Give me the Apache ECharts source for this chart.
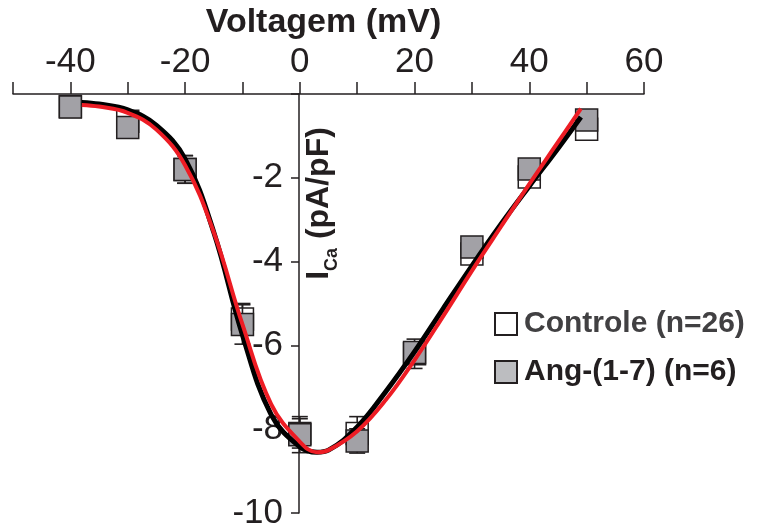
<!DOCTYPE html>
<html>
<head>
<meta charset="utf-8">
<script src="https://cdn.jsdelivr.net/npm/echarts@6/dist/echarts.min.js"></script>
<style>
  html, body { margin: 0; padding: 0; background: #fff; }
  #chart { width: 758px; height: 530px; }
</style>
</head>
<body>
<div id="chart"></div>
<script>
// pontos medidos (mV)
const volts = [-40, -30, -20, -10, 0, 10, 20, 30, 40, 50];
const ctrlMean = [-0.3, -0.65, -1.8, -5.37, -8.1, -8.1, -6.2, -3.82, -1.98, -0.84];
const ctrlSem = [0.05, 0.05, 0.33, 0.37, 0.35, 0.4, 0.35, 0.1, 0.1, 0.1];
const angMean = [-0.31, -0.8, -1.8, -5.5, -8.13, -8.28, -6.17, -3.65, -1.79, -0.62];
const angSem = [0.05, 0.05, 0.33, 0.47, 0.43, 0.29, 0.2, 0.1, 0.1, 0.05];

// curvas ajustadas
const fitX = [-38, -35, -30, -25, -20, -15, -10, -5, 0, 3, 5, 10, 15, 20, 25, 30, 35, 40, 45, 49];
const ctrlFit = [-0.2, -0.24, -0.38, -0.75, -1.55, -3.3, -5.75, -7.65, -8.42, -8.55, -8.5, -7.95, -7.1, -6.15, -5.12, -4.1, -3.12, -2.2, -1.3, -0.55];
const angFit = [-0.26, -0.3, -0.45, -0.85, -1.7, -3.3, -5.5, -7.4, -8.3, -8.55, -8.5, -8.05, -7.3, -6.35, -5.3, -4.22, -3.18, -2.15, -1.15, -0.35];

const seriesNames = ['Controle (n=26)', 'Ang-(1-7) (n=6)'];

const ink = '#231f20';
const font = '"Liberation Sans", Arial, sans-serif';

function errorBars(mean, sem, z) {
  return {
    type: 'custom',
    z: z,
    silent: true,
    encode: { x: 0, y: 1 },
    data: volts.map((v, i) => [v, mean[i], sem[i]]),
    renderItem: function (params, api) {
      const x = api.value(0), m = api.value(1), s = api.value(2);
      const top = api.coord([x, m + s]);
      const bot = api.coord([x, m - s]);
      const w = 8;
      const st = { stroke: ink, lineWidth: 1.6 };
      return {
        type: 'group',
        children: [
          { type: 'line', shape: { x1: top[0], y1: top[1], x2: bot[0], y2: bot[1] }, style: st },
          { type: 'line', shape: { x1: top[0] - w, y1: top[1], x2: top[0] + w, y2: top[1] }, style: st },
          { type: 'line', shape: { x1: bot[0] - w, y1: bot[1], x2: bot[0] + w, y2: bot[1] }, style: st }
        ]
      };
    }
  };
}

const chart = echarts.init(document.getElementById('chart'));
chart.setOption({
  backgroundColor: '#fff',
  animation: false,
  textStyle: { fontFamily: font },
  grid: { left: 13, right: 114, top: 94, bottom: 17, containLabel: false, outerBoundsMode: 'none' },
  legend: {
    orient: 'vertical',
    left: 489,
    top: 304,
    itemWidth: 22,
    itemHeight: 22,
    itemGap: 18,
    selectedMode: false,
    data: [
      { name: seriesNames[0], textStyle: { color: '#414042' } },
      { name: seriesNames[1], textStyle: { color: ink }, itemStyle: { color: '#bcbdc0' } }
    ],
    textStyle: { fontSize: 30, fontWeight: 'bold', fontFamily: font, padding: [0, 0, 0, 2] }
  },
  xAxis: {
    type: 'value',
    position: 'top',
    min: -50,
    max: 60,
    interval: 10,
    name: 'Voltagem (mV)',
    nameLocation: 'middle',
    nameGap: 52,
    nameTextStyle: { fontSize: 34, fontWeight: 'bold', color: ink, padding: [0, 10, 0, 0] },
    axisLine: { lineStyle: { color: ink, width: 1.5 } },
    axisTick: { length: 12, lineStyle: { color: ink, width: 1.5 } },
    axisLabel: {
      fontSize: 35,
      color: ink,
      margin: 14,
      formatter: v => (v % 20 === 0 ? String(v) : '')
    },
    splitLine: { show: false }
  },
  yAxis: {
    type: 'value',
    position: 'left',
    offset: -286,
    min: -10,
    max: 0,
    interval: 2,
    name: '{a|I}{b|Ca}{a| (pA/pF)}',
    nameLocation: 'middle',
    nameGap: -42,
    nameMoveOverlap: false,
    nameTextStyle: {
      padding: [0, 0, 0, 200],
      rich: {
        a: { fontSize: 32, fontWeight: 'bold', color: ink, lineHeight: 44, fontFamily: font },
        b: { fontSize: 18, fontWeight: 'bold', color: ink, verticalAlign: 'bottom', fontFamily: font }
      }
    },
    axisLine: { onZero: false, lineStyle: { color: ink, width: 1.5 } },
    axisTick: { length: 8, lineStyle: { color: ink, width: 1.5 } },
    axisLabel: {
      fontSize: 35,
      color: ink,
      margin: 16,
      formatter: v => (v === 0 ? '' : String(v))
    },
    splitLine: { show: false }
  },
  series: [
    errorBars(ctrlMean, ctrlSem, 2),
    {
      name: seriesNames[0],
      type: 'scatter',
      z: 3,
      symbol: 'rect',
      symbolSize: 22,
      itemStyle: { color: '#ffffff', borderColor: ink, borderWidth: 1.5, opacity: 1 },
      data: volts.map((v, i) => [v, ctrlMean[i]])
    },
    errorBars(angMean, angSem, 4),
    {
      name: seriesNames[1],
      type: 'scatter',
      z: 5,
      symbol: 'rect',
      symbolSize: 22,
      itemStyle: { color: '#a2a1a6', borderColor: ink, borderWidth: 1.5, opacity: 1 },
      data: volts.map((v, i) => [v, angMean[i]])
    },
    {
      type: 'line',
      z: 6,
      smooth: 0.4,
      showSymbol: false,
      silent: true,
      lineStyle: { color: '#000000', width: 5 },
      data: fitX.map((v, i) => [v, ctrlFit[i]])
    },
    {
      type: 'line',
      z: 7,
      smooth: 0.4,
      showSymbol: false,
      silent: true,
      lineStyle: { color: '#ed1c24', width: 4 },
      data: fitX.map((v, i) => [v, angFit[i]])
    }
  ]
});
</script>
</body>
</html>
